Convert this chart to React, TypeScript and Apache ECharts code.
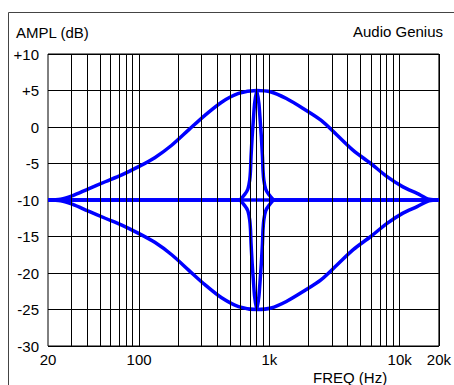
import React, { useEffect, useRef } from 'react';
import * as echarts from 'echarts';

// Vertical grid line frequencies (Hz)
const GRID_FREQS = [
  20, 30, 40, 50, 60, 70, 80, 90,
  100, 200, 300, 400, 500, 600, 700, 800, 900,
  1000, 2000, 3000, 4000, 5000, 6000, 7000, 8000, 9000,
  10000, 20000,
];
const X_TICKS = [20, 100, 1000, 10000, 20000];
const X_TICK_LABELS = ['20', '100', '1k', '10k', '20k'];

// Flat response
const FLAT_FREQ = [20, 20000];
const FLAT_DB = [-10, -10];

// Wide bell curves
const WIDE_FREQ = [20, 25, 31, 40.5, 55, 73, 100, 132, 178, 240, 320, 430, 580, 800, 1030, 1350, 1830, 2500, 3300, 4400, 6000, 8000, 10600, 13600, 16800, 20000];
const WIDE_BOOST_DB = [-10, -9.9, -9.4, -8.5, -7.5, -6.6, -5.4, -4.2, -2.5, -0.4, 1.6, 3.4, 4.6, 5, 4.8, 3.9, 2.5, 0.9, -1.1, -3.2, -5, -6.8, -8.2, -9.1, -9.9, -10];
const WIDE_CUT_DB = [-10, -10.1, -10.6, -11.5, -12.5, -13.4, -14.6, -15.8, -17.5, -19.6, -21.6, -23.4, -24.6, -25, -24.8, -23.9, -22.5, -20.9, -18.9, -16.8, -15, -13.2, -11.8, -10.9, -10.1, -10];

// Narrow peak / notch
const NARROW_FREQ = [20, 584, 649, 684, 706, 716, 723, 737, 753, 770, 800, 831, 850, 868, 885, 894, 907, 936, 986, 1095, 20000];
const NARROW_BOOST_DB = [-10, -10, -9.2, -8.5, -7.3, -6, -4.1, -1.4, 0.9, 3.2, 5, 3.2, 0.9, -1.4, -4.1, -6, -7.3, -8.5, -9.2, -10, -10];
const NARROW_CUT_DB = [-10, -10, -10.8, -11.5, -12.7, -14, -15.9, -18.6, -20.9, -23.2, -25, -23.2, -20.9, -18.6, -15.9, -14, -12.7, -11.5, -10.8, -10, -10];

const BLUE = '#0000ff';
const FONT = '"Liberation Sans", Arial, sans-serif';

export default function App() {
  const ref = useRef<HTMLDivElement>(null);
  useEffect(() => {
    const chart = echarts.init(ref.current!, null, { renderer: 'svg' });
    const toXY = (f: number[], v: number[]) => f.map((x, i) => [Math.log10(x), v[i]]);
    const curve = (name: string, f: number[], v: number[], smooth: number) => ({
      type: 'line',
      name,
      data: toXY(f, v),
      symbol: 'none',
      smooth,
      silent: true,
      z: 3,
      lineStyle: { color: BLUE, width: 3.5 },
      emphasis: { disabled: true },
    });
    chart.setOption({
      animation: false,
      grid: { left: 48, top: 54, right: 9, bottom: 39, show: true, borderColor: '#000', borderWidth: 1 },
      xAxis: {
        type: 'value',
        min: Math.log10(20),
        max: Math.log10(20000),
        axisLine: { show: false },
        axisTick: { show: false },
        splitLine: { show: false },
        axisLabel: {
          customValues: X_TICKS.map((t) => Math.log10(t)),
          formatter: (v: number) => {
            const i = X_TICKS.findIndex((t) => Math.abs(Math.log10(t) - v) < 1e-6);
            return i >= 0 ? X_TICK_LABELS[i] : '';
          },
          fontSize: 15,
          fontFamily: FONT,
          color: '#000',
          margin: 6,
          showMinLabel: true,
          showMaxLabel: true,
        },
      },
      yAxis: {
        type: 'value',
        min: -30,
        max: 10,
        interval: 5,
        axisLine: { show: false },
        axisTick: { show: false },
        splitLine: { show: true, lineStyle: { color: '#000', width: 1 } },
        axisLabel: {
          formatter: (v: number) => (v > 0 ? '+' + v : String(v)),
          fontSize: 15,
          fontFamily: FONT,
          color: '#000',
          margin: 9,
        },
      },
      series: [
        {
          type: 'line',
          data: [[Math.log10(20), -10]],
          symbol: 'none',
          lineStyle: { opacity: 0 },
          silent: true,
          z: 1,
          markLine: {
            silent: true,
            symbol: ['none', 'none'],
            label: { show: false },
            emphasis: { disabled: true },
            lineStyle: { color: '#000', width: 1, type: 'solid' },
            data: GRID_FREQS.map((f) => ({ xAxis: Math.log10(f) })),
          },
        },
        curve('flat', FLAT_FREQ, FLAT_DB, 0),
        curve('wideBoost', WIDE_FREQ, WIDE_BOOST_DB, 0.3),
        curve('wideCut', WIDE_FREQ, WIDE_CUT_DB, 0.3),
        curve('narrowBoost', NARROW_FREQ, NARROW_BOOST_DB, 0.2),
        curve('narrowCut', NARROW_FREQ, NARROW_CUT_DB, 0.2),
      ],
      graphic: [
        { type: 'line', shape: { x1: 8.5, y1: 12.5, x2: 454, y2: 12.5 }, style: { stroke: '#444', lineWidth: 1 }, silent: true },
        { type: 'line', shape: { x1: 8.5, y1: 12.5, x2: 8.5, y2: 385 }, style: { stroke: '#444', lineWidth: 1 }, silent: true },
        { type: 'text', x: 16, y: 32, style: { text: 'AMPL (dB)', fontSize: 15, fontFamily: FONT, fill: '#000', align: 'left', verticalAlign: 'middle' } },
        { type: 'text', x: 443, y: 31, style: { text: 'Audio Genius', fontSize: 15, fontFamily: FONT, fill: '#000', align: 'right', verticalAlign: 'middle' } },
        { type: 'text', x: 313, y: 377, style: { text: 'FREQ (Hz)', fontSize: 15, fontFamily: FONT, fill: '#000', align: 'left', verticalAlign: 'middle' } },
      ],
    });
    return () => chart.dispose();
  }, []);
  return <div ref={ref} style={{ position: 'fixed', left: 0, top: 0, width: 454, height: 385, background: '#fff' }} />;
}
